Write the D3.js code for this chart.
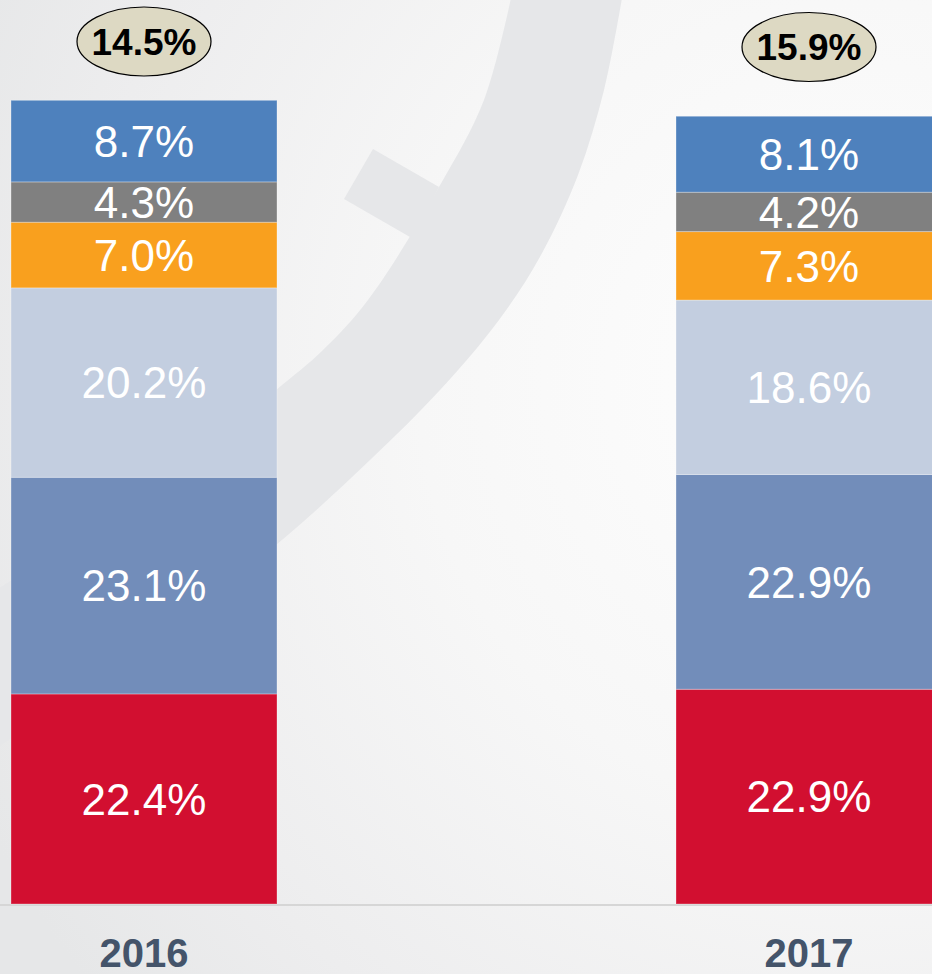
<!DOCTYPE html>
<html>
<head>
<meta charset="utf-8">
<script src="https://cdn.jsdelivr.net/npm/d3@7"></script>
<style>
  html, body { margin: 0; padding: 0; overflow: hidden; background: #f2f2f2; }
  svg { display: block; }
</style>
</head>
<body>
<svg id="chart" width="932" height="974"></svg>
<script>
// ---- data -------------------------------------------------------------
const years = ["2016", "2017"];
// stacked shares, bottom segment first
const segmentKeys = ["seg1", "seg2", "seg3", "seg4", "seg5", "seg6"];
const values2016 = [22.4, 23.1, 20.2, 7.0, 4.3, 8.7];
const values2017 = [22.9, 22.9, 18.6, 7.3, 4.2, 8.1];
// remaining share shown in the callout above each bar
const remainderShare = [14.5, 15.9];
const segmentColors = ["#d20f30", "#728dba", "#c3cee0", "#f9a01e", "#808080", "#4e81bd"];

// ---- layout -----------------------------------------------------------
const W = 932, H = 974;
const baseY = 904;
const calloutY = [41.5, 47];
const font = "'Liberation Sans', Arial, Helvetica, sans-serif";

const svg = d3.select("#chart");
const defs = svg.append("defs");

// soft background: bright spot on the right, greyer toward the left/bottom
const bg = defs.append("radialGradient")
  .attr("id", "bgGrad").attr("gradientUnits", "userSpaceOnUse")
  .attr("cx", 860).attr("cy", 380).attr("r", 980);
bg.append("stop").attr("offset", "0").attr("stop-color", "#fefefe");
bg.append("stop").attr("offset", "0.45").attr("stop-color", "#f7f7f7");
bg.append("stop").attr("offset", "0.8").attr("stop-color", "#ededee");
bg.append("stop").attr("offset", "1").attr("stop-color", "#e6e7e8");
svg.append("rect").attr("width", W).attr("height", H).attr("fill", "url(#bgGrad)");

// decorative logo swoosh in the background
const deco = svg.append("g").attr("fill", "#e6e7e9");
const outerEdge = [[622, -2], [604, 90], [578, 175], [541, 255], [499, 320], [440, 390], [370, 460], [276, 545], [150, 640], [-20, 760]];
const innerEdge = [[-20, 600], [150, 490], [276, 390], [323, 350], [368, 300], [439, 187], [484, 100], [511, -2]];
const edgeLine = d3.line().curve(d3.curveCatmullRom.alpha(0.5));
deco.append("path")
  .attr("d", edgeLine(outerEdge) + "L" + edgeLine(innerEdge).slice(1) + "Z");
deco.append("path")
  .attr("d", "M373,149L439,187L420,225L410,237L344,199Z");

// ---- scales -----------------------------------------------------------
const x = d3.scaleBand().domain(years).range([11, 942]).paddingInner(0.6).paddingOuter(0);
const y = d3.scaleLinear().domain([0, 100]).range([baseY, baseY - 937.8]);

const rows = years.map((yr, i) => {
  const src = i === 0 ? values2016 : values2017;
  const row = { year: yr };
  segmentKeys.forEach((k, j) => { row[k] = src[j]; });
  return row;
});
const stacked = d3.stack().keys(segmentKeys)(rows);

// baseline
svg.append("line")
  .attr("x1", 0).attr("x2", W)
  .attr("y1", baseY + 1).attr("y2", baseY + 1)
  .attr("stroke", "#d6d6d6").attr("stroke-width", 2);

// ---- bars -------------------------------------------------------------
const layers = svg.append("g").selectAll("g.layer")
  .data(stacked).join("g")
  .attr("class", "layer")
  .attr("fill", (d, i) => segmentColors[i]);

layers.selectAll("rect")
  .data(d => d)
  .join("rect")
  .attr("x", d => x(d.data.year))
  .attr("width", x.bandwidth())
  .attr("y", d => y(d[1]))
  .attr("height", d => y(d[0]) - y(d[1]))
  .attr("stroke", "rgba(255,255,255,0.3)")
  .attr("stroke-width", 1);

// segment value labels
const labelSize = 44;
layers.selectAll("text")
  .data(d => d)
  .join("text")
  .attr("x", d => x(d.data.year) + x.bandwidth() / 2)
  .attr("y", d => (y(d[0]) + y(d[1])) / 2 + labelSize * 0.36)
  .attr("text-anchor", "middle")
  .attr("font-family", font)
  .attr("font-size", labelSize)
  .attr("fill", "#ffffff")
  .text(d => (d[1] - d[0]).toFixed(1) + "%");

// ---- callouts with the remaining share --------------------------------
const callouts = svg.append("g").selectAll("g")
  .data(years.map((yr, i) => ({ year: yr, value: remainderShare[i], cy: calloutY[i] })))
  .join("g");
callouts.append("ellipse")
  .attr("cx", d => x(d.year) + x.bandwidth() / 2)
  .attr("cy", d => d.cy)
  .attr("rx", 67).attr("ry", 34.5)
  .attr("fill", "#ddd9c3")
  .attr("stroke", "#000").attr("stroke-width", 1.2);
callouts.append("text")
  .attr("x", d => x(d.year) + x.bandwidth() / 2)
  .attr("y", d => d.cy + 37 * 0.36)
  .attr("text-anchor", "middle")
  .attr("font-family", font)
  .attr("font-weight", "bold")
  .attr("font-size", 37)
  .attr("fill", "#000")
  .text(d => d.value.toFixed(1) + "%");

// ---- year labels ------------------------------------------------------
svg.append("g").selectAll("text")
  .data(years).join("text")
  .attr("x", d => x(d) + x.bandwidth() / 2)
  .attr("y", 967)
  .attr("text-anchor", "middle")
  .attr("font-family", font)
  .attr("font-weight", "bold")
  .attr("font-size", 40)
  .attr("fill", "#44546a")
  .text(d => d);
</script>
</body>
</html>
